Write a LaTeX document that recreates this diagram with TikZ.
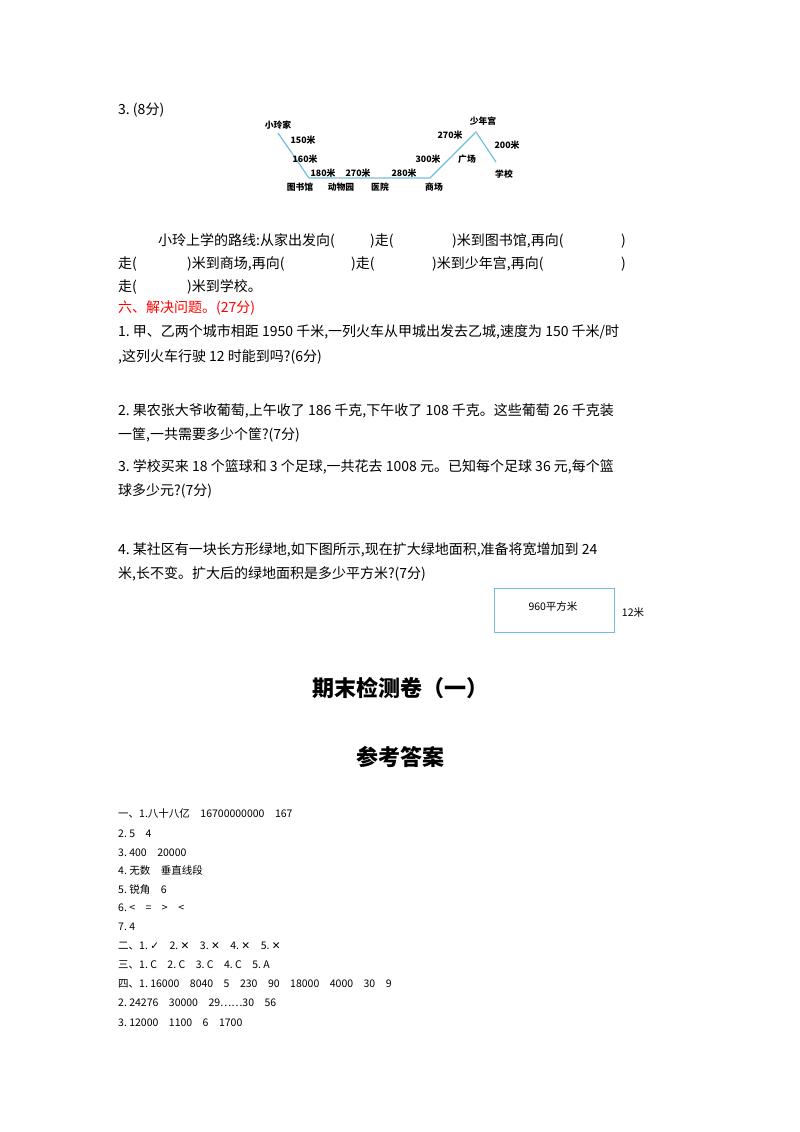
\documentclass[tikz,border=0pt]{standalone}
\usepackage{fontspec}
\setmainfont{Liberation Serif}
\newfontfamily\cjk{Noto Sans CJK SC}
\newfontfamily\dv{DejaVu Sans}
\newcommand{\xx}{{\dv ✕}}
\begin{document}
\begin{tikzpicture}[x=1pt,y=-1pt,
 t/.style={anchor=base west,inner sep=0pt,font=\cjk\fontsize{14}{16}\selectfont},
 a/.style={anchor=base west,inner sep=0pt,font=\cjk\fontsize{10.5}{12}\selectfont},
 m/.style={inner sep=0pt,font=\cjk\bfseries\fontsize{8.8}{10}\selectfont},
 route/.style={draw={rgb,255:red,110;green,190;blue,225},line width=1.2pt},
 pt/.style={circle,fill=pink,inner sep=0.8pt}]
\useasboundingbox (0,0) rectangle (800,1132);
% route diagram
\coordinate (home) at (278,133); \coordinate (mid) at (292,153);
\coordinate (lib) at (309,178); \coordinate (zoo) at (338,178);
\coordinate (hos) at (378,178); \coordinate (mall) at (430,178);
\coordinate (sq) at (452,157); \coordinate (pal) at (476,132);
\coordinate (sch) at (496,162);
\draw[route] (home)--(lib)--(mall)--(pal)--(sch);
\foreach \p in {mid,zoo,hos,sq,pal} \node[pt] at (\p) {};
\node[m] (h) at (278,125) {小玲家};
\node[m] (d1) at (303,140) {150米};
\node[m] (d2) at (305,159) {160米};
\node[m] (d3) at (323,173) {180米};
\node[m] (d4) at (358,173) {270米};
\node[m] (d5) at (404,173) {280米};
\node[m] (d6) at (428,159) {300米};
\node[m] (d7) at (450,135) {270米};
\node[m] (d8) at (507,145) {200米};
\node[m] (n1) at (300,187) {图书馆};
\node[m] (n2) at (341,187) {动物园};
\node[m] (n3) at (380,187) {医院};
\node[m] (n4) at (434,187) {商场};
\node[m] (n5) at (467,159) {广场};
\node[m] (n6) at (483,121) {少年宫};
\node[m] (n7) at (504,174) {学校};
% text
\node[t] (q3) at (118,114) {3.\ (8分)};
\node[t] (l1a) at (158,245) {小玲上学的路线:从家出发向(};
\node[t] (l1b) at (370,245) {)走(};
\node[t] (l1c) at (452,245) {)米到图书馆,再向(};
\node[t] (l1d) at (621,245) {)};
\node[t] (l2a) at (118,268) {走(};
\node[t] (l2b) at (187,268) {)米到商场,再向(};
\node[t] (l2c) at (351,268) {)走(};
\node[t] (l2d) at (432,268) {)米到少年宫,再向(};
\node[t] (l2e) at (621,268) {)};
\node[t] (l3a) at (118,291) {走(};
\node[t] (l3b) at (187,291) {)米到学校。};
\node[t,text=red] (s6) at (118,312) {六、解决问题。(27分)};
\node[t] (p1a) at (118,336) {1.\ 甲、乙两个城市相距 1950 千米,一列火车从甲城出发去乙城,速度为 150 千米/时};
\node[t] (p1b) at (118,361) {,这列火车行驶 12 时能到吗?(6分)};
\node[t] (p2a) at (118,415) {2.\ 果农张大爷收葡萄,上午收了 186 千克,下午收了 108 千克。这些葡萄 26 千克装};
\node[t] (p2b) at (118,439) {一筐,一共需要多少个筐?(7分)};
\node[t] (p3a) at (118,471) {3.\ 学校买来 18 个篮球和 3 个足球,一共花去 1008 元。已知每个足球 36 元,每个篮};
\node[t] (p3b) at (118,495) {球多少元?(7分)};
\node[t] (p4a) at (118,554) {4.\ 某社区有一块长方形绿地,如下图所示,现在扩大绿地面积,准备将宽增加到 24};
\node[t] (p4b) at (118,578) {米,长不变。扩大后的绿地面积是多少平方米?(7分)};
\draw[route,line width=0.9pt] (494,588) rectangle (614,632);
\node[inner sep=0pt,font=\cjk\fontsize{10.5}{12}\selectfont] (ar) at (553,606) {960平方米};
\node[inner sep=0pt,font=\cjk\fontsize{10.5}{12}\selectfont] (w) at (633,613) {12米};
\node[inner sep=0pt,font=\cjk\bfseries\fontsize{22}{24}\selectfont] (title) at (400,688) {期末检测卷（一）};
\node[inner sep=0pt,font=\cjk\bfseries\fontsize{22}{24}\selectfont] (ans) at (400,757) {参考答案};
\node[a] (r1) at (118,817) {一、1.八十八亿\quad 16700000000\quad 167};
\node[a] (r2) at (118,837) {2.\ 5\quad 4};
\node[a] (r3) at (118,856) {3.\ 400\quad 20000};
\node[a] (r4) at (118,874) {4.\ 无数\quad 垂直线段};
\node[a] (r5) at (118,893) {5.\ 锐角\quad 6};
\node[a] (r6) at (118,911) {6.\ <\quad =\quad >\quad <};
\node[a] (r7) at (118,930) {7.\ 4};
\node[a] (r8) at (118,949) {二、1.\ {\dv ✓}\quad 2.\ \xx\quad 3.\ \xx\quad 4.\ \xx\quad 5.\ \xx};
\node[a] (r9) at (118,968) {三、1.\ C\quad 2.\ C\quad 3.\ C\quad 4.\ C\quad 5.\ A};
\node[a] (r10) at (118,987) {四、1.\ 16000\quad 8040\quad 5\quad 230\quad 90\quad 18000\quad 4000\quad 30\quad 9};
\node[a] (r11) at (118,1006) {2.\ 24276\quad 30000\quad 29……30\quad 56};
\node[a] (r12) at (118,1026) {3.\ 12000\quad 1100\quad 6\quad 1700};
\end{tikzpicture}
\end{document}
